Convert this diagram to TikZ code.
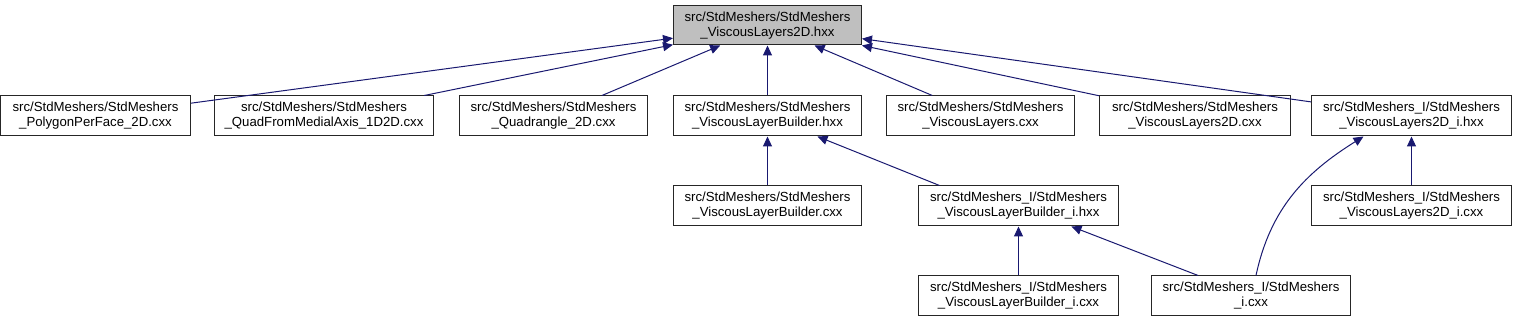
\documentclass[tikz,border=0pt]{standalone}
\usepackage{fontspec}
\setmainfont{Liberation Sans}
\usepackage{xcolor}
\usepackage{tikz}
\usetikzlibrary{positioning,arrows.meta}

\definecolor{edgeblue}{HTML}{191970}
\definecolor{hdrgray}{HTML}{BFBFBF}

\begin{document}
\begin{tikzpicture}[
  x=1pt, y=1pt,
  node distance=49pt and 24pt,
  box/.style={
    draw=black!85, line width=1pt, align=center, inner sep=0pt,
    minimum width=188pt, minimum height=40pt, fill=white,
    font=\fontsize{13.2pt}{15pt}\selectfont,
  },
  hdr/.style={box, fill=hdrgray, minimum height=39pt},
  arr/.style={-{Triangle[length=10pt,width=9pt]}, line width=1pt, edgeblue},
]
\useasboundingbox (0,0) rectangle (1513,-320);

\node[hdr] (vl2dh) at (767.5,-25.5) {src/StdMeshers/StdMeshers\\\_ViscousLayers2D.hxx};

\node[box, below=50pt of vl2dh] (vlbh) {src/StdMeshers/StdMeshers\\\_ViscousLayerBuilder.hxx};
\node[box, left=25pt of vlbh] (quad) {src/StdMeshers/StdMeshers\\\_Quadrangle\_2D.cxx};
\node[box, left=25pt of quad, minimum width=219pt] (quadma) {src/StdMeshers/StdMeshers\\\_QuadFromMedialAxis\_1D2D.cxx};
\node[box, left=23pt of quadma, minimum width=190pt] (poly) {src/StdMeshers/StdMeshers\\\_PolygonPerFace\_2D.cxx};
\node[box, right=of vlbh] (vl) {src/StdMeshers/StdMeshers\\\_ViscousLayers.cxx};
\node[box, right=of vl, minimum width=191pt] (vl2dc) {src/StdMeshers/StdMeshers\\\_ViscousLayers2D.cxx};
\node[box, right=20pt of vl2dc, minimum width=200pt] (vl2dih) {src/StdMeshers\_I/StdMeshers\\\_ViscousLayers2D\_i.hxx};

\node[box, below=of vlbh] (vlbc) {src/StdMeshers/StdMeshers\\\_ViscousLayerBuilder.cxx};
\node[box, right=56pt of vlbc, minimum width=200pt] (vlbih) {src/StdMeshers\_I/StdMeshers\\\_ViscousLayerBuilder\_i.hxx};
\node[box, below=of vl2dih, minimum width=200pt] (vl2dic) {src/StdMeshers\_I/StdMeshers\\\_ViscousLayers2D\_i.cxx};

\node[box, below=of vlbih, minimum width=200pt] (vlbic) {src/StdMeshers\_I/StdMeshers\\\_ViscousLayerBuilder\_i.cxx};
\node[box, right=32pt of vlbic, minimum width=199pt] (stdi) {src/StdMeshers\_I/StdMeshers\\\_i.cxx};

% includes of the header
\draw[arr] (poly) -- (vl2dh);
\draw[arr] (quadma) -- (vl2dh);
\draw[arr] (quad) -- (vl2dh);
\draw[arr] (vlbh) -- (vl2dh);
\draw[arr] (vl) -- (vl2dh);
\draw[arr] (vl2dc) -- (vl2dh);
\draw[arr] (vl2dih) -- (vl2dh);

\draw[arr] (vlbc) -- (vlbh);
\draw[arr] ([xshift=-79pt]vlbih.north) -- ([xshift=50pt]vlbh.south);
\draw[arr] (vlbic) -- (vlbih);
\draw[arr] (stdi) -- (vlbih);
\draw[arr] ([xshift=5pt]stdi.north) to[out=78, in=-148] ([xshift=-48pt]vl2dih.south);
\draw[arr] (vl2dic) -- (vl2dih);

\end{tikzpicture}
\end{document}
